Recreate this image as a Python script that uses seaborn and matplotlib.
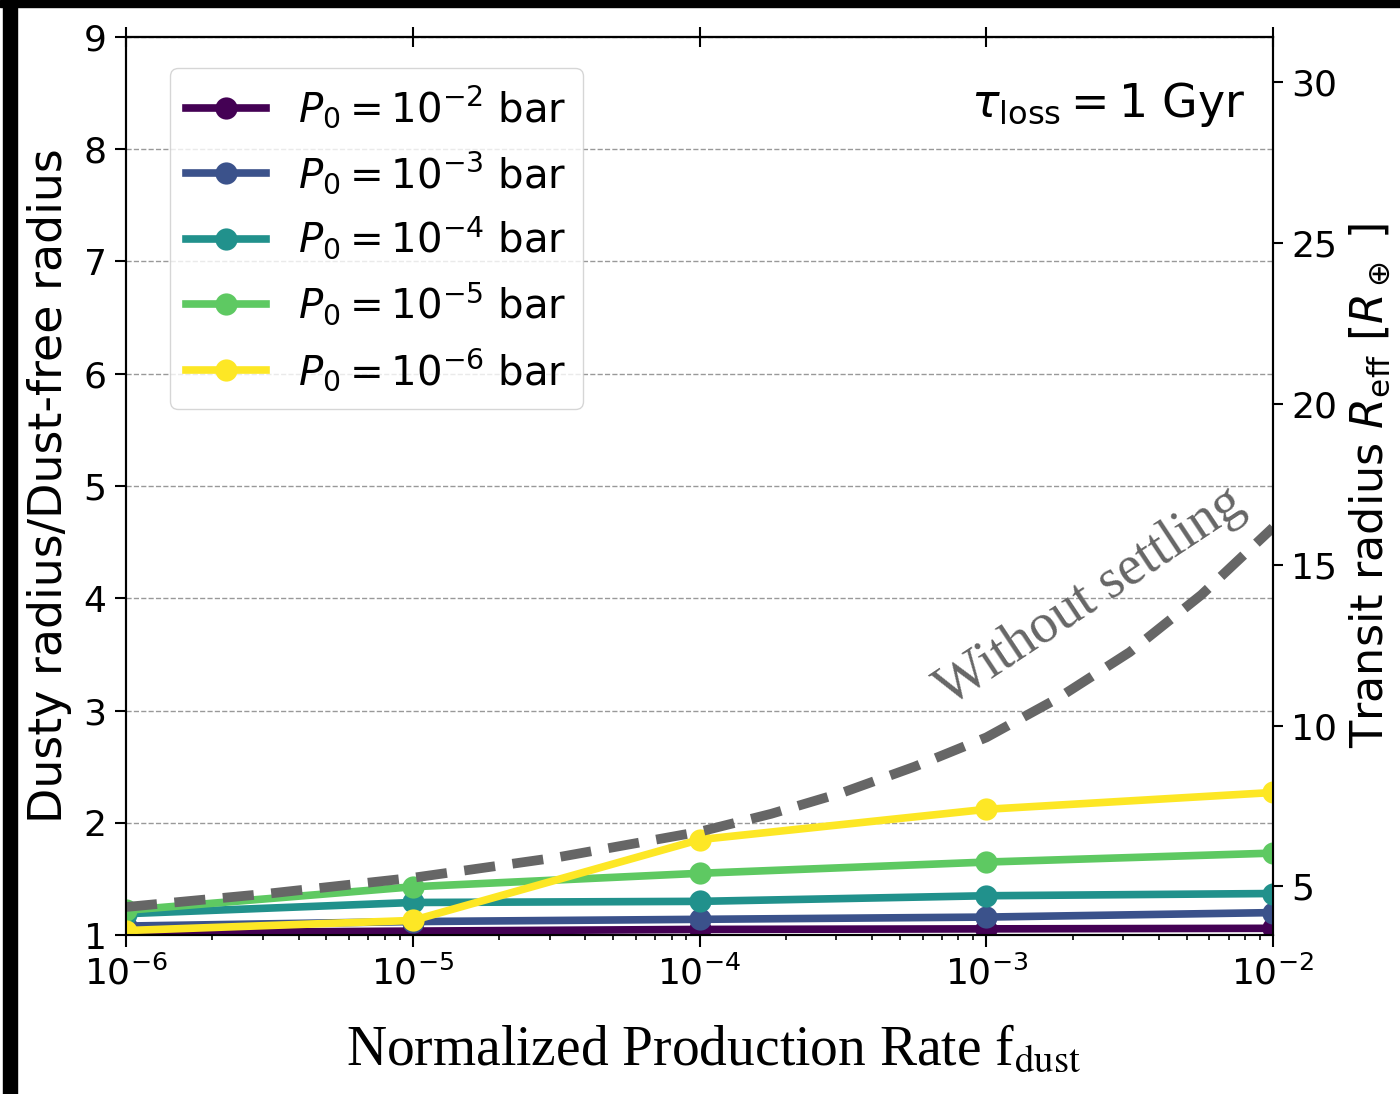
import matplotlib
matplotlib.use("Agg")
import matplotlib.pyplot as plt
import seaborn as sns
import numpy as np
from matplotlib.patches import Rectangle

# values
f_dust = [1e-6, 1e-5, 1e-4, 1e-3, 1e-2]
pressures = [-2, -3, -4, -5, -6]
ratio_p2 = [1.02, 1.035, 1.05, 1.055, 1.06]
ratio_p3 = [1.08, 1.12, 1.14, 1.16, 1.20]
ratio_p4 = [1.19, 1.29, 1.30, 1.35, 1.37]
ratio_p5 = [1.22, 1.43, 1.55, 1.65, 1.73]
ratio_p6 = [1.04, 1.13, 1.85, 2.12, 2.27]
ratio_hidden = [1.12, 1.12, 1.12, 1.12, 1.12]

f_nosettle = [1e-6, 10**-5.5, 1e-5, 10**-4.5, 1e-4, 10**-3.75, 10**-3.5, 10**-3.25,
              1e-3, 10**-2.75, 10**-2.5, 10**-2.25, 1e-2]
ratio_nosettle = [1.25, 1.37, 1.51, 1.69, 1.92, 2.08, 2.27, 2.50,
                  2.76, 3.11, 3.52, 4.03, 4.63]

R_dustfree = 3.49  # Earth radii, sets right axis scale

series = [ratio_p2, ratio_p3, ratio_p4, ratio_p5, ratio_p6]
colors = [plt.cm.viridis(v) for v in np.linspace(0, 1, 5)]

fig = plt.figure(figsize=(14, 10.94), dpi=100)
ax = fig.add_axes([0.09, 0.1453, 0.8193, 0.8209])

# white line under the curves
sns.lineplot(x=f_dust, y=ratio_hidden, ax=ax, color="white", linewidth=5, zorder=1.5)

for p, vals, c in zip(pressures, series, colors):
    sns.lineplot(x=f_dust, y=vals, ax=ax, color=c, linewidth=5.5, marker="o",
                 markersize=16, markeredgewidth=0, markeredgecolor=c,
                 label=rf"$P_0 = 10^{{{p}}}$ bar", zorder=3)

sns.lineplot(x=f_nosettle, y=ratio_nosettle, ax=ax, color="#666666", linewidth=7,
             linestyle=(0, (3.2, 1.8)), zorder=4)

ax.set_xscale("log")
ax.set_xlim(1e-6, 1e-2)
ax.set_ylim(1, 9)
ax.set_yticks(range(1, 10))
ax.yaxis.grid(True, linestyle="--", color="#999999", linewidth=1)
ax.set_axisbelow(True)

for s in ax.spines.values():
    s.set_linewidth(1.5)
ax.tick_params(axis="both", which="major", labelsize=26, width=1.5)
ax.tick_params(axis="x", which="major", length=8.5, pad=6, top=False, direction="out")
ax.tick_params(axis="x", which="minor", length=3.5, width=1.2, top=False)
ax.tick_params(axis="y", which="major", length=8, pad=6)

# top ticks crossing the spine
top = ax.secondary_xaxis("top")
top.set_xticks([1e-6, 1e-5, 1e-4, 1e-3, 1e-2])
top.tick_params(axis="x", which="major", direction="inout", length=14, width=1.5,
                labeltop=False)
top.tick_params(axis="x", which="minor", length=0)
top.spines["top"].set_linewidth(1.5)

ax.set_xlabel(r"Normalized Production Rate f$_{\rm dust}$", fontsize=40,
              fontfamily="Liberation Serif", math_fontfamily="stix")
ax.xaxis.set_label_coords(0.5126, -0.10)
ax.set_ylabel("Dusty radius/Dust-free radius", fontsize=33)
ax.yaxis.set_label_coords(-0.047, 0.5)

ax.text(0.841, 0.376, "Without settling", transform=ax.transAxes, rotation=33.5,
        rotation_mode="anchor", ha="center", va="center", fontsize=40,
        fontfamily="Liberation Serif", color="#666666")

# right axis in Earth radii
ax2 = ax.twinx()
ax2.set_ylim(1 * R_dustfree, 9 * R_dustfree)
ax2.set_yticks([5, 10, 15, 20, 25, 30])
ax2.tick_params(axis="y", labelsize=26, length=7, width=1.5, pad=6)
for s in ax2.spines.values():
    s.set_linewidth(1.5)
ax2.set_ylabel(r"Transit radius $R_{\rm eff}$ [$R_\oplus$ ]", fontsize=32)
ax2.yaxis.set_label_coords(1.065, 0.5)

ax2.text(0.9756, 0.952, r"$\tau_{\rm loss} = 1$ Gyr", transform=ax2.transAxes,
         ha="right", va="top", fontsize=33)

handles, labels = ax.get_legend_handles_labels()
ax.get_legend().remove()
ax2.legend(handles, labels, loc="upper left", bbox_to_anchor=(0.038, 0.966),
           borderaxespad=0, fontsize=29, handlelength=2.0, labelspacing=0.47,
           framealpha=0.8)

# black border strips seen in the reference
fig.patches.append(Rectangle((0, 1 - 7 / 1094), 1, 7 / 1094, transform=fig.transFigure,
                             color="black", zorder=10))
fig.patches.append(Rectangle((3 / 1400, 0), 14 / 1400, 1, transform=fig.transFigure,
                             color="black", zorder=10))

fig.savefig("out.png", dpi=100)
